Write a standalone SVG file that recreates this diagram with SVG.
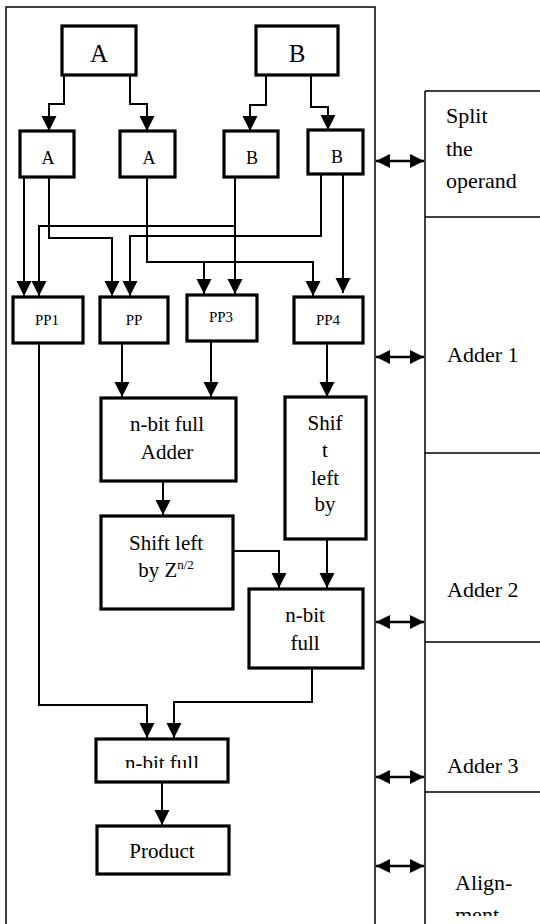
<svg xmlns="http://www.w3.org/2000/svg" width="540" height="924" viewBox="0 0 540 924">
  <style>
    .box { fill: #fff; stroke: #000; stroke-width: 3.2; }
    .frame { fill: none; stroke: #000; stroke-width: 1.5; }
    .conn { fill: none; stroke: #000; stroke-width: 2; marker-end: url(#ah); }
    .dbl { fill: none; stroke: #000; stroke-width: 2.4; marker-start: url(#ah2); marker-end: url(#ah2); }
    text { font-family: "Liberation Serif", "Times New Roman", serif; fill: #000; }
    .big { font-size: 25px; text-anchor: middle; }
    .mid { font-size: 18px; text-anchor: middle; }
    .sm { font-size: 15px; text-anchor: middle; }
    .lbl { font-size: 21px; text-anchor: middle; }
    .stage { font-size: 22px; }
  </style>
  <defs>
    <marker id="ah" markerUnits="userSpaceOnUse" markerWidth="16" markerHeight="16" refX="15" refY="7.5" orient="auto-start-reverse">
      <path d="M0,0 L15,7.5 L0,15 Z" fill="#000"/>
    </marker>
    <marker id="ah2" markerUnits="userSpaceOnUse" markerWidth="16" markerHeight="16" refX="14" refY="8" orient="auto-start-reverse">
      <path d="M0,1 L14,8 L0,15 Z" fill="#000"/>
    </marker>
    <clipPath id="clipA3"><rect x="95" y="739" width="133" height="29"/></clipPath>
    <clipPath id="clipAl"><rect x="426" y="793" width="114" height="123"/></clipPath>
    <clipPath id="clipS2"><rect x="284" y="397" width="82" height="131"/></clipPath>
  </defs>

  <g id="frame">
    <rect class="frame" x="6" y="7" width="369" height="940"/>
  </g>

  <g id="stages">
    <path class="frame" d="M425,91 V930 M425,91 H545 M425,217 H545 M425,453 H545 M425,642 H545 M425,792 H545"/>
    <g id="stage-split">
      <text class="stage" x="446" y="123">Split</text>
      <text class="stage" x="446" y="156">the</text>
      <text class="stage" x="446" y="188">operand</text>
    </g>
    <g id="stage-adder1"><text class="stage" x="447" y="362">Adder 1</text></g>
    <g id="stage-adder2"><text class="stage" x="447" y="597">Adder 2</text></g>
    <g id="stage-adder3"><text class="stage" x="447" y="773">Adder 3</text></g>
    <g id="stage-align" clip-path="url(#clipAl)">
      <text class="stage" x="455" y="890">Align-</text>
      <text class="stage" x="455" y="922">ment</text>
    </g>
  </g>

  <g id="A-top"><rect class="box" x="62" y="26" width="74" height="49"/><text class="big" x="99" y="62">A</text></g>
  <g id="B-top"><rect class="box" x="256" y="26" width="82" height="49"/><text class="big" x="297" y="62">B</text></g>

  <g id="A1"><rect class="box" x="20" y="131" width="54" height="46"/><text class="mid" x="48" y="164">A</text></g>
  <g id="A2"><rect class="box" x="120" y="131" width="55" height="46"/><text class="mid" x="149" y="164">A</text></g>
  <g id="B1"><rect class="box" x="224" y="131" width="54" height="46"/><text class="mid" x="252" y="164">B</text></g>
  <g id="B2"><rect class="box" x="308" y="130" width="55" height="44"/><text class="mid" x="337" y="163">B</text></g>

  <g id="PP1"><rect class="box" x="13" y="297" width="70" height="46"/><text class="sm" x="47" y="325">PP1</text></g>
  <g id="PP2"><rect class="box" x="100" y="297" width="68" height="46"/><text class="sm" x="134" y="325">PP</text></g>
  <g id="PP3"><rect class="box" x="187" y="295" width="70" height="46"/><text class="sm" x="221" y="322">PP3</text></g>
  <g id="PP4"><rect class="box" x="294" y="297" width="69" height="46"/><text class="sm" x="328" y="325">PP4</text></g>

  <g id="adder1"><rect class="box" x="101" y="398" width="135" height="83"/>
    <text class="lbl" x="167" y="431">n-bit full</text><text class="lbl" x="167" y="459">Adder</text></g>
  <g id="shift1"><rect class="box" x="101" y="516" width="132" height="93"/>
    <text class="lbl" x="166" y="550">Shift left</text>
    <text class="lbl" x="166" y="577">by Z<tspan font-size="13" dy="-8">n/2</tspan></text></g>
  <g id="shift2"><rect class="box" x="285" y="397" width="81" height="142"/>
    <g clip-path="url(#clipS2)">
      <text class="lbl" x="325" y="430">Shif</text>
      <text class="lbl" x="325" y="457">t</text>
      <text class="lbl" x="325" y="485">left</text>
      <text class="lbl" x="325" y="511">by</text>
    </g></g>
  <g id="adder2"><rect class="box" x="249" y="589" width="114" height="79"/>
    <text class="lbl" x="305" y="622">n-bit</text><text class="lbl" x="305" y="650">full</text></g>
  <g id="adder3"><rect class="box" x="96" y="739" width="132" height="43"/>
    <text class="lbl" x="162" y="770" clip-path="url(#clipA3)">n-bit full</text></g>
  <g id="product"><rect class="box" x="97" y="826" width="132" height="48"/>
    <text class="lbl" x="162" y="858">Product</text></g>

  <g id="connectors">
    <path class="conn" d="M64,76 V104 H49 V131"/>
    <path class="conn" d="M130,76 V104 H147 V131"/>
    <path class="conn" d="M266,76 V105 H250 V131"/>
    <path class="conn" d="M311,76 V107 H328 V130"/>
    <path class="conn" d="M24,177 V296"/>
    <path class="conn" d="M49,177 V238 H112 V296"/>
    <path class="conn" d="M147,177 V262 H313 V296"/>
    <path class="conn" d="M204,262 V294"/>
    <path class="conn" d="M235,177 V294"/>
    <path class="conn" d="M235,226 H39 V296"/>
    <path class="conn" d="M321,174 V236 H130 V296"/>
    <path class="conn" d="M343,174 V293"/>
    <path class="conn" d="M39,343 V705 H147 V738"/>
    <path class="conn" d="M122,343 V397"/>
    <path class="conn" d="M211,341 V397"/>
    <path class="conn" d="M327,343 V397"/>
    <path class="conn" d="M163,481 V515"/>
    <path class="conn" d="M233,551 H279 V588"/>
    <path class="conn" d="M327,539 V588"/>
    <path class="conn" d="M312,668 V702 H174 V738"/>
    <path class="conn" d="M162,782 V825"/>
    <path class="dbl" d="M376,161 H424"/>
    <path class="dbl" d="M376,357 H424"/>
    <path class="dbl" d="M376,622 H424"/>
    <path class="dbl" d="M376,777 H424"/>
    <path class="dbl" d="M376,866 H424"/>
  </g>
</svg>
